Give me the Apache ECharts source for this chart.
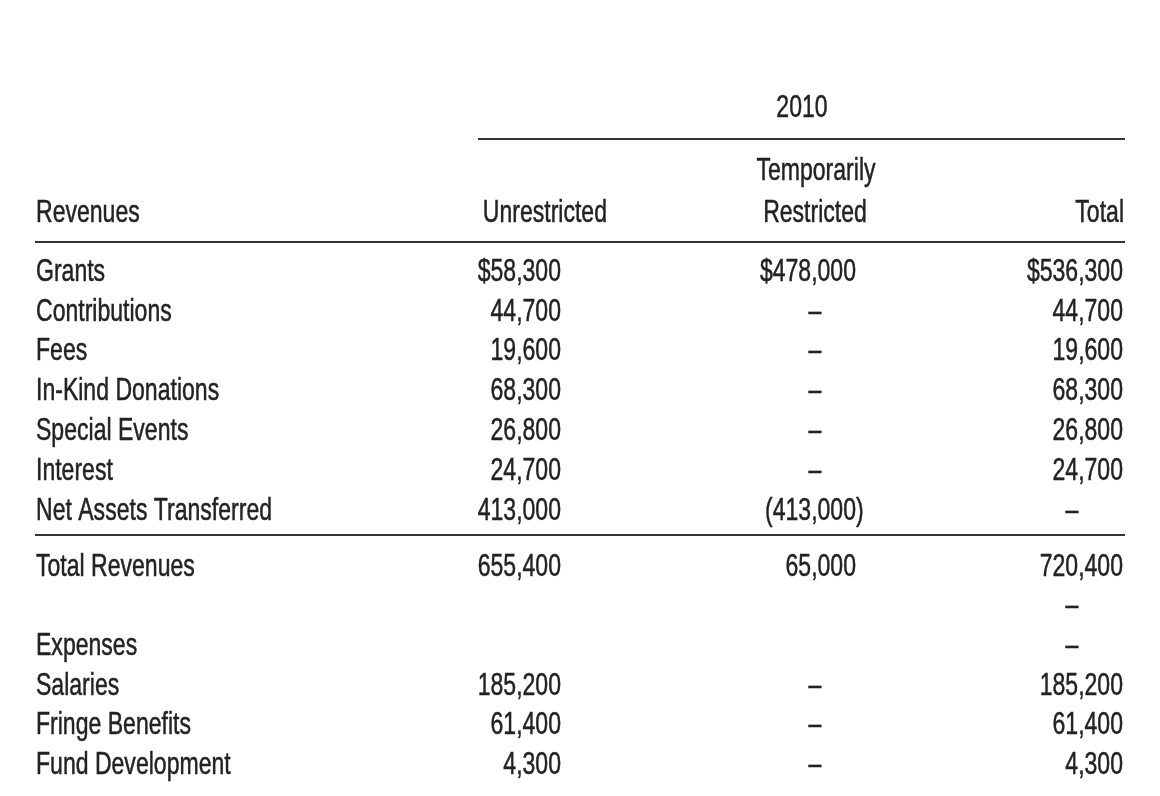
<!DOCTYPE html>
<html>
<head>
<meta charset="utf-8">
<script src="https://cdn.jsdelivr.net/npm/echarts@6/dist/echarts.min.js"></script>
<style>
  html, body { margin: 0; padding: 0; background: #ffffff; }
  #chart { width: 1160px; height: 796px; }
</style>
</head>
<body>
<div id="chart"></div>
<script>
// ---------- data ----------
const headerYear = '2010';
const sectionHeader = 'Revenues';
const columnHeaders = ['Unrestricted', 'Temporarily\nRestricted', 'Total'];

const rowLabelsTop = ['Grants', 'Contributions', 'Fees', 'In-Kind Donations', 'Special Events', 'Interest', 'Net Assets Transferred'];
const unrestrictedTop = [58300, 44700, 19600, 68300, 26800, 24700, 413000];
const tempRestrictedTop = [478000, 0, 0, 0, 0, 0, -413000];
const totalTop = [536300, 44700, 19600, 68300, 26800, 24700, 0];

const rowLabelsBottom = ['Total Revenues', '', 'Expenses', 'Salaries', 'Fringe Benefits', 'Fund Development'];
const unrestrictedBottom = [655400, null, null, 185200, 61400, 4300];
const tempRestrictedBottom = [65000, null, null, 0, 0, 0];
const totalBottom = [720400, 0, 0, 185200, 61400, 4300];

// ---------- layout / style ----------
const FONT = '32px "Liberation Sans", Arial, sans-serif';
const INK = '#222222';
const SX = 0.72;               // condensed look
const DY = 2;                  // cap-centre correction
const PAREN_W = 32 * 0.333 * SX;
const LABEL_X = 36;
const COLS = [
  { right: 561, dash: 540 },
  { right: 856, dash: 815 },
  { right: 1123, dash: 1072 }
];

function fmt(v, dollar) {
  const s = Math.abs(v).toLocaleString('en-US');
  if (v < 0) return '(' + s + ')';
  return (dollar ? '$' : '') + s;
}

function textEl(x, y, text, align) {
  return {
    type: 'text', x: x, y: y + DY, scaleX: SX, scaleY: 1, silent: true,
    style: {
      text: text, x: 0, y: 0, fill: INK, font: FONT, align: align, verticalAlign: 'middle',
      stroke: INK, lineWidth: 0.5
    }
  };
}

function labelSeries(gi, labels) {
  return {
    type: 'custom', coordinateSystem: 'cartesian2d', xAxisIndex: gi, yAxisIndex: gi,
    silent: true,
    data: labels.map((l, i) => [LABEL_X, i]),
    renderItem: function (params, api) {
      const t = labels[params.dataIndex];
      if (!t) return null;
      const p = api.coord([api.value(0), api.value(1)]);
      return textEl(p[0], p[1], t, 'left');
    }
  };
}

function valueSeries(gi, values, col, dollarRow) {
  return {
    type: 'custom', coordinateSystem: 'cartesian2d', xAxisIndex: gi, yAxisIndex: gi,
    silent: true,
    data: values.map((v, i) => [col.right, i]),
    renderItem: function (params, api) {
      const v = values[params.dataIndex];
      if (v === null || v === undefined) return null;
      const row = api.value(1);
      if (v === 0) {
        const pd = api.coord([col.dash, row]);
        return textEl(pd[0], pd[1], '–', 'center');
      }
      const p = api.coord([col.right, row]);
      let x = p[0];
      if (v < 0) x += PAREN_W;
      return textEl(x, p[1], fmt(v, params.dataIndex === dollarRow), 'right');
    }
  };
}

function rule(x1, x2, y) {
  return {
    type: 'line', silent: true,
    shape: { x1: x1, y1: y, x2: x2, y2: y },
    style: { stroke: '#333333', lineWidth: 2 }
  };
}

const hdr = columnHeaders.map(h => h.split('\n'));

const chart = echarts.init(document.getElementById('chart'), null, { renderer: 'canvas' });
const hiddenX = { type: 'value', min: 0, max: 1160, show: false };
chart.setOption({
  backgroundColor: '#ffffff',
  animation: false,
  grid: [
    { left: 0, right: 0, top: 250, height: 279 },
    { left: 0, right: 0, top: 545, height: 238 }
  ],
  xAxis: [
    Object.assign({ gridIndex: 0 }, hiddenX),
    Object.assign({ gridIndex: 1 }, hiddenX)
  ],
  yAxis: [
    { gridIndex: 0, type: 'category', inverse: true, data: rowLabelsTop.map((l, i) => 'r' + i), show: false },
    { gridIndex: 1, type: 'category', inverse: true, data: rowLabelsBottom.map((l, i) => 'b' + i), show: false }
  ],
  graphic: [
    textEl(802, 106, headerYear, 'center'),
    rule(478, 1125, 139),
    textEl(816, 169, hdr[1][0], 'center'),
    textEl(LABEL_X, 211, sectionHeader, 'left'),
    textEl(607, 211, hdr[0][0], 'right'),
    textEl(815, 211, hdr[1][1], 'center'),
    textEl(1124, 211, hdr[2][0], 'right'),
    rule(35, 1125, 242),
    rule(35, 1125, 535)
  ],
  series: [
    labelSeries(0, rowLabelsTop),
    valueSeries(0, unrestrictedTop, COLS[0], 0),
    valueSeries(0, tempRestrictedTop, COLS[1], 0),
    valueSeries(0, totalTop, COLS[2], 0),
    labelSeries(1, rowLabelsBottom),
    valueSeries(1, unrestrictedBottom, COLS[0], -1),
    valueSeries(1, tempRestrictedBottom, COLS[1], -1),
    valueSeries(1, totalBottom, COLS[2], -1)
  ]
});
</script>
</body>
</html>
